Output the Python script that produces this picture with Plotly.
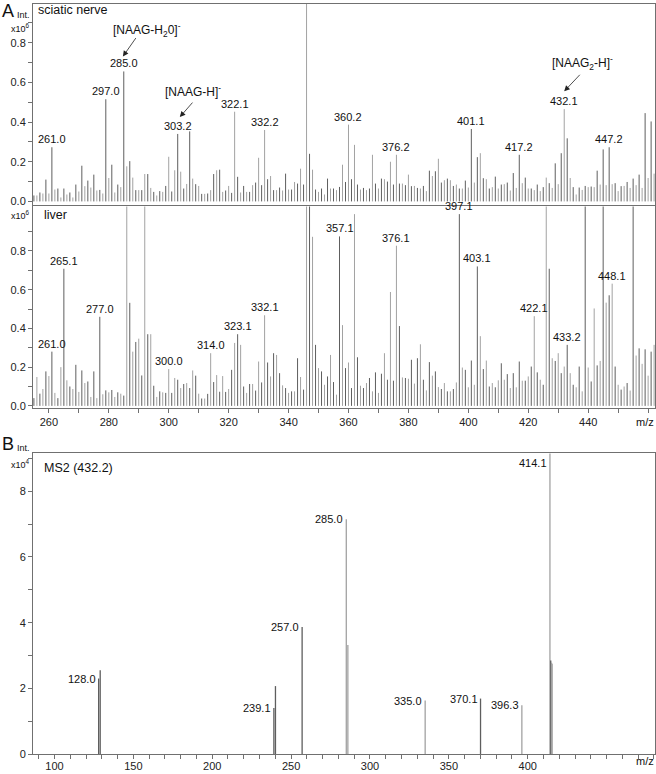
import plotly.graph_objects as go

# ---------------- data ----------------
mz_A = list(range(255, 463))  # one stick per nominal m/z

sciatic_int = [
    0.03, 0.03, 0.045, 0.04, 0.11, 0.04, 0.273, 0.06, 0.065, 0.02,          # 255-264
    0.065, 0.035, 0.045, 0.02, 0.085, 0.05, 0.18, 0.077, 0.105, 0.07,       # 265-274
    0.135, 0.055, 0.058, 0.04, 0.515, 0.118, 0.185, 0.045, 0.085, 0.072,    # 275-284
    0.655, 0.177, 0.203, 0.12, 0.057, 0.057, 0.057, 0.138, 0.138, 0.068,    # 285-294
    0.048, 0.03, 0.052, 0.048, 0.078, 0.225, 0.05, 0.157, 0.34, 0.15,       # 295-304
    0.065, 0.088, 0.353, 0.115, 0.087, 0.078, 0.038, 0.038, 0.04, 0.057,    # 305-314
    0.138, 0.157, 0.16, 0.048, 0.055, 0.078, 0.043, 0.452, 0.124, 0.045,    # 315-324
    0.078, 0.048, 0.048, 0.082, 0.095, 0.22, 0.082, 0.36, 0.112, 0.128,     # 325-334
    0.057, 0.057, 0.07, 0.055, 0.14, 0.06, 0.06, 0.098, 0.09, 0.165,        # 335-344
    0.085, 1.2, 0.24, 0.16, 0.06, 0.048, 0.065, 0.035, 0.115, 0.065,        # 345-354
    0.065, 0.057, 0.073, 0.185, 0.098, 0.387, 0.112, 0.285, 0.085, 0.06,    # 355-364
    0.068, 0.057, 0.065, 0.235, 0.09, 0.065, 0.115, 0.112, 0.1, 0.2,        # 365-374
    0.085, 0.235, 0.09, 0.09, 0.082, 0.135, 0.077, 0.078, 0.068, 0.065,     # 375-384
    0.078, 0.052, 0.155, 0.128, 0.152, 0.215, 0.095, 0.107, 0.115, 0.107,   # 385-394
    0.078, 0.085, 0.065, 0.065, 0.105, 0.07, 0.365, 0.095, 0.223, 0.243,    # 395-404
    0.117, 0.112, 0.065, 0.072, 0.125, 0.065, 0.085, 0.087, 0.095, 0.055,   # 405-414
    0.143, 0.068, 0.235, 0.092, 0.12, 0.065, 0.065, 0.057, 0.085, 0.052,    # 415-424
    0.072, 0.12, 0.092, 0.068, 0.192, 0.087, 0.243, 0.465, 0.318, 0.118,    # 425-434
    0.072, 0.035, 0.07, 0.058, 0.078, 0.072, 0.075, 0.072, 0.155, 0.085,    # 435-444
    0.262, 0.082, 0.273, 0.087, 0.092, 0.052, 0.077, 0.078, 0.098, 0.068,   # 445-454
    0.115, 0.082, 0.135, 0.068, 0.445, 0.118, 0.403, 0.14,                  # 455-462
]

liver_int = [
    0.04, 0.149, 0.063, 0.087, 0.178, 0.154, 0.28, 0.067, 0.04, 0.2,        # 255-264
    0.708, 0.132, 0.1, 0.087, 0.212, 0.072, 0.183, 0.118, 0.126, 0.046,     # 265-274
    0.178, 0.04, 0.46, 0.06, 0.08, 0.07, 0.082, 0.046, 0.07, 0.063,         # 275-284
    0.053, 1.3, 0.532, 0.28, 0.33, 0.347, 0.157, 1.3, 0.37, 0.37,           # 285-294
    0.104, 0.046, 0.075, 0.07, 0.067, 0.19, 0.067, 0.144, 0.135, 0.092,     # 295-304
    0.113, 0.118, 0.092, 0.183, 0.156, 0.063, 0.038, 0.038, 0.062, 0.272,   # 305-314
    0.123, 0.159, 0.073, 0.154, 0.072, 0.087, 0.186, 0.325, 0.37, 0.315,    # 315-324
    0.1, 0.067, 0.113, 0.113, 0.079, 0.229, 0.121, 0.468, 0.224, 0.152,     # 325-334
    0.272, 0.263, 0.169, 0.106, 0.092, 0.067, 0.075, 0.075, 0.246, 0.149,   # 335-344
    0.084, 1.3, 1.3, 0.873, 0.315, 0.195, 0.178, 0.109, 0.152, 0.263,       # 345-354
    0.123, 0.058, 0.875, 0.417, 0.195, 0.224, 0.092, 0.99, 0.251, 0.104,    # 355-364
    0.092, 0.118, 0.144, 0.075, 0.173, 0.067, 0.166, 0.272, 0.135, 0.588,   # 365-374
    0.13, 0.827, 0.412, 0.147, 0.144, 0.14, 0.238, 0.115, 0.246, 0.318,     # 375-384
    0.135, 0.08, 0.226, 0.156, 0.178, 0.097, 0.087, 0.118, 0.075, 0.075,    # 385-394
    0.087, 0.121, 0.99, 0.198, 0.186, 0.096, 0.234, 0.109, 0.72, 0.36,      # 395-404
    0.19, 0.234, 0.1, 0.118, 0.096, 0.132, 0.22, 0.135, 0.164, 0.092,       # 405-414
    0.169, 0.096, 0.229, 0.13, 0.13, 0.152, 0.203, 0.463, 0.173, 0.135,     # 415-424
    0.109, 1.3, 0.708, 0.246, 0.232, 0.272, 0.169, 0.203, 0.315, 0.169,     # 425-434
    0.109, 0.096, 0.203, 0.075, 1.3, 0.198, 0.126, 0.503, 0.209, 0.232,     # 435-444
    1.3, 0.533, 0.571, 0.631, 0.203, 0.109, 0.084, 0.1, 0.118, 0.079,       # 445-454
    1.3, 0.26, 0.297, 0.217, 0.292, 0.156, 0.28, 0.315,                     # 455-462
]

sciatic_label_mz = [261, 279, 285, 303, 322, 332, 360, 376, 401, 417, 432, 447]
sciatic_label_txt = ["261.0", "297.0", "285.0", "303.2", "322.1", "332.2",
                     "360.2", "376.2", "401.1", "417.2", "432.1", "447.2"]
liver_label_mz = [261, 265, 277, 300, 314, 323, 332, 357, 376, 397, 403, 422, 433, 448]
liver_label_txt = ["261.0", "265.1", "277.0", "300.0", "314.0", "323.1", "332.1",
                   "357.1", "376.1", "397.1", "403.1", "422.1", "433.2", "448.1"]

ms2_mz = [128.0, 129.0, 239.1, 240.1, 257.0, 285.0, 286.0, 335.0, 370.1, 396.3,
          414.1, 414.6, 415.1, 415.5]
ms2_int = [2.3, 2.55, 1.4, 2.07, 3.87, 7.15, 3.32, 1.63, 1.69, 1.49,
           9.6, 2.85, 2.78, 2.75]
ms2_label_mz = [128.0, 239.1, 257.0, 285.0, 335.0, 370.1, 396.3, 414.1]
ms2_label_txt = ["128.0", "239.1", "257.0", "285.0", "335.0", "370.1", "396.3", "414.1"]

A_xtick_vals = [260, 280, 300, 320, 340, 360, 380, 400, 420, 440]
A_xtick_txt = ["260", "280", "300", "320", "340", "360", "380", "400", "420", "440"]
A_xminor_vals = [270, 290, 310, 330, 350, 370, 390, 410, 430, 450, 460]
A_ytick_vals = [0.0, 0.2, 0.4, 0.6, 0.8]
A_ytick_txt = ["0.0", "0.2", "0.4", "0.6", "0.8"]
A_yminor_vals = [0.1, 0.3, 0.5, 0.7, 0.9]
B_xtick_vals = [100, 150, 200, 250, 300, 350, 400]
B_xtick_txt = ["100", "150", "200", "250", "300", "350", "400"]
B_xminor_vals = [90, 110, 120, 130, 140, 160, 170, 180, 190, 210, 220, 230, 240,
                 260, 270, 280, 290, 310, 320, 330, 340, 360, 370, 380, 390,
                 410, 420, 430, 440, 450, 460, 470, 480]
B_ytick_vals = [0, 2, 4, 6, 8]
B_ytick_txt = ["0", "2", "4", "6", "8"]
B_yminor_vals = [1, 3, 5, 7, 9]

# ---------------- figure ----------------
W, H = 656, 774
ML, MR = 33, 1
FONT = "Liberation Sans, Arial, sans-serif"
DARK = "#5e5e5e"
LIGHT = "#a2a2a2"


def sticks(xs, ys):
    px, py = [], []
    for x, y in zip(xs, ys):
        px += [x, x, None]
        py += [0, y, None]
    return px, py


fig = go.Figure()


def add_spectrum(xs, ys, xa, ya):
    ev_x = [x for i, x in enumerate(xs) if i % 2 == 0]
    ev_y = [y for i, y in enumerate(ys) if i % 2 == 0]
    od_x = [x for i, x in enumerate(xs) if i % 2 == 1]
    od_y = [y for i, y in enumerate(ys) if i % 2 == 1]
    for (gx, gy, c) in [(ev_x, ev_y, DARK), (od_x, od_y, LIGHT)]:
        px, py = sticks(gx, gy)
        fig.add_trace(go.Scatter(x=px, y=py, mode="lines", xaxis=xa, yaxis=ya,
                                 line=dict(color=c, width=1), hoverinfo="skip",
                                 showlegend=False))


add_spectrum(mz_A, sciatic_int, "x", "y")
add_spectrum(mz_A, liver_int, "x2", "y2")

ms2_colors = [DARK, DARK, DARK, DARK, DARK, LIGHT, LIGHT, LIGHT, DARK, LIGHT,
              LIGHT, DARK, LIGHT, LIGHT]
for x, y, c in zip(ms2_mz, ms2_int, ms2_colors):
    px, py = sticks([x], [y])
    fig.add_trace(go.Scatter(x=px, y=py, mode="lines", xaxis="x3", yaxis="y3",
                             line=dict(color=c, width=1.3), hoverinfo="skip",
                             showlegend=False))


def pix_y(py):
    return 1 - py / H


def pix_x(px):
    return (px - ML) / (W - ML - MR)


LINE = "#707070"
TICKF = dict(family=FONT, size=11, color="#222")

A_range = [254.7, 462.3]
B_range = [86.4, 480.7]

common_axis = dict(showline=True, linecolor=LINE, linewidth=1, mirror=True,
                   showgrid=False, zeroline=False, ticks="outside",
                   tickcolor=LINE, ticklen=4, tickfont=TICKF)


def minor(vals):
    return dict(tickmode="array", tickvals=vals, ticks="outside", ticklen=4,
                tickcolor=LINE, showgrid=False)


fig.update_layout(
    width=W, height=H,
    margin=dict(l=ML, r=MR, t=0, b=0, pad=0),
    paper_bgcolor="white", plot_bgcolor="white",
    font=dict(family=FONT, color="#222"),
    xaxis=dict(common_axis, domain=[0, 1], range=A_range, anchor="y",
               ticks="", showticklabels=False),
    yaxis=dict(common_axis, domain=[pix_y(207), pix_y(4)], range=[-0.02, 0.995],
               anchor="x", tickmode="array", tickvals=A_ytick_vals, ticktext=A_ytick_txt,
               minor=minor(A_yminor_vals)),
    xaxis2=dict(common_axis, domain=[0, 1], range=A_range, anchor="y2",
                tickmode="array", tickvals=A_xtick_vals, ticktext=A_xtick_txt,
                minor=minor(A_xminor_vals)),
    yaxis2=dict(common_axis, domain=[pix_y(411), pix_y(208)], range=[-0.01, 1.03],
                anchor="x2", tickmode="array", tickvals=A_ytick_vals, ticktext=A_ytick_txt,
                minor=minor(A_yminor_vals)),
    xaxis3=dict(common_axis, domain=[0, 1], range=B_range, anchor="y3",
                tickmode="array", tickvals=B_xtick_vals, ticktext=B_xtick_txt,
                minor=minor(B_xminor_vals), ticklabelstandoff=-2),
    yaxis3=dict(common_axis, domain=[pix_y(760), pix_y(457)], range=[0, 9.15],
                anchor="x3", tickmode="array", tickvals=B_ytick_vals, ticktext=B_ytick_txt,
                minor=minor(B_yminor_vals)),
)

ann = []
LBL = dict(family=FONT, size=11, color="#111")

for m, t in zip(sciatic_label_mz, sciatic_label_txt):
    v = sciatic_int[mz_A.index(m)]
    ann.append(dict(x=m, y=v, xref="x", yref="y", text=t, showarrow=False,
                    xanchor="center", yanchor="bottom", yshift=0, font=LBL))
for m, t in zip(liver_label_mz, liver_label_txt):
    v = liver_int[mz_A.index(m)]
    ann.append(dict(x=m, y=v, xref="x2", yref="y2", text=t, showarrow=False,
                    xanchor="center", yanchor="bottom", yshift=0, font=LBL))
for m, t in zip(ms2_label_mz, ms2_label_txt):
    v = min(ms2_int[ms2_mz.index(m)], 8.85)
    ann.append(dict(x=m, y=v, xref="x3", yref="y3", text=t, showarrow=False,
                    xanchor="right", yanchor="middle", xshift=-1, font=LBL))

# ion annotations with arrows
ions = [
    ("[NAAG-H<sub>2</sub>0]<sup>-</sup>", 292.7, 0.865, 284.7, 0.73, 14, -20),
    ("[NAAG-H]<sup>-</sup>", 308.0, 0.555, 303.7, 0.425, 14, -16),
    ("[NAAG<sub>2</sub>-H]<sup>-</sup>", 438.0, 0.70, 432.0, 0.555, 17, -18),
]
for txt, tx, ty, hx, hy, dx, dy in ions:
    ann.append(dict(x=tx, y=ty, xref="x", yref="y", text=txt, showarrow=False,
                    xanchor="center", yanchor="middle",
                    font=dict(family=FONT, size=12, color="#111")))
    ann.append(dict(x=hx, y=hy, xref="x", yref="y", text="", showarrow=True,
                    ax=dx, ay=dy, axref="pixel", ayref="pixel",
                    arrowhead=2, arrowsize=1.4, arrowwidth=0.8, arrowcolor="#222"))


def ptext(t, px, py, size, xanchor="left", color="#111"):
    ann.append(dict(x=pix_x(px), y=pix_y(py), xref="paper", yref="paper", text=t,
                    showarrow=False, xanchor=xanchor, yanchor="middle",
                    font=dict(family=FONT, size=size, color=color)))


ptext("sciatic nerve", 36, 10, 12.5)
ptext("liver", 42, 217, 12.5)
ptext("MS2 (432.2)", 42, 472, 12.5)
ptext("A", 0, 11, 18)
ptext("B", 0, 447, 18)
ptext("Int.", 23, 15, 9, xanchor="center")
ptext("Int.", 23, 452, 9, xanchor="center")
ptext("x10<sup>6</sup>", 20, 28, 9, xanchor="center")
ptext("x10<sup>6</sup>", 20, 217, 9, xanchor="center")
ptext("x10<sup>4</sup>", 20, 468, 9, xanchor="center")
ptext("m/z", 645, 425, 11, xanchor="center")
ptext("m/z", 645, 767, 11, xanchor="center")

fig.update_layout(annotations=ann)
fig.write_html(
    "out.html",
    config={"displayModeBar": False},
    post_script="document.body.style.margin='0';document.body.style.overflow='hidden';",
)
